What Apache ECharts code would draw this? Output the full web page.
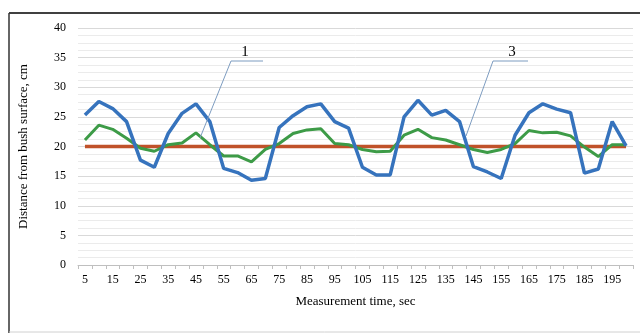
<!DOCTYPE html>
<html><head><meta charset="utf-8">
<script src="https://cdn.jsdelivr.net/npm/echarts@6/dist/echarts.min.js"></script>
<style>html,body{margin:0;padding:0;background:#fff}#c{width:640px;height:333px}</style>
</head><body><div id="c"></div>
<script>
const categories = [5,10,15,20,25,30,35,40,45,50,55,60,65,70,75,80,85,90,95,100,105,110,115,120,125,130,135,140,145,150,155,160,165,170,175,180,185,190,195,200];
const series1 = [25.3,27.6,26.4,24.2,17.7,16.5,22.2,25.6,27.2,24.2,16.3,15.6,14.3,14.6,23.2,25.2,26.7,27.2,24.2,23.1,16.5,15.2,15.2,25.0,27.8,25.3,26.1,24.2,16.6,15.7,14.6,21.9,25.7,27.2,26.3,25.7,15.5,16.2,24.2,20.1];
const series3 = [21.1,23.6,22.9,21.4,19.7,19.2,20.3,20.6,22.3,20.3,18.4,18.4,17.4,19.5,20.5,22.2,22.8,23.0,20.5,20.3,19.5,19.1,19.2,21.9,22.9,21.5,21.1,20.3,19.5,19.0,19.5,20.5,22.7,22.3,22.4,21.8,19.9,18.3,20.3,20.3];
const series2 = categories.map(() => 20);
const yTicks = {min: 0, max: 40, interval: 5};

const chart = echarts.init(document.getElementById('c'));
const font = 'Liberation Serif';
chart.setOption({
  animation: false,
  textStyle: {fontFamily: font},
  grid: {left: 78, right: 7, top: 28, bottom: 68},
  xAxis: {
    type: 'category', data: categories, boundaryGap: true,
    name: 'Measurement time, sec', nameLocation: 'middle', nameGap: 30,
    nameTextStyle: {fontFamily: font, fontSize: 13, color: '#000'},
    axisLine: {lineStyle: {color: '#bfbfbf'}},
    axisTick: {show: true, interval: 0, length: 4, lineStyle: {color: '#bfbfbf'}},
    axisLabel: {interval: 1, color: '#000', fontFamily: font, fontSize: 12, margin: 9},
    splitLine: {show: false}
  },
  yAxis: {
    type: 'value', min: yTicks.min, max: yTicks.max, interval: yTicks.interval,
    name: 'Distance from bush surface, cm', nameLocation: 'middle', nameGap: 48, nameRotate: 90,
    nameTextStyle: {fontFamily: font, fontSize: 13, color: '#000'},
    axisLine: {show: false}, axisTick: {show: false},
    axisLabel: {color: '#000', fontFamily: font, fontSize: 12, margin: 12},
    splitLine: {lineStyle: {color: '#d9d9d9'}},
    minorTick: {show: false, splitNumber: 4},
    minorSplitLine: {show: true, lineStyle: {color: '#ebebeb'}}
  },
  series: [
    {name: '2', type: 'line', data: series2, symbol: 'none', lineStyle: {color: '#c0522a', width: 3.5}, z: 3},
    {name: '3', type: 'line', data: series3, symbol: 'none', lineStyle: {color: '#3d9b47', width: 3}, z: 4},
    {name: '1', type: 'line', data: series1, symbol: 'none', lineStyle: {color: '#3673bd', width: 3.5}, z: 5}
  ],
  graphic: [
    {type: 'line', shape: {x1: 9, y1: 13, x2: 640, y2: 13}, style: {stroke: '#000', lineWidth: 1.5}},
    {type: 'line', shape: {x1: 9, y1: 13, x2: 9, y2: 333}, style: {stroke: '#333', lineWidth: 1.5}},
    {type: 'line', shape: {x1: 9, y1: 332, x2: 640, y2: 332}, style: {stroke: '#d0d0d0', lineWidth: 1}},
    {type: 'polyline', shape: {points: [[263, 61], [231, 61], [200, 138]]}, style: {stroke: '#7d9cc0', lineWidth: 1, fill: null}, z: 10},
    {type: 'text', style: {text: '1', x: 245, y: 52, fontFamily: font, fontSize: 15, fill: '#000', align: 'center', verticalAlign: 'middle'}, z: 10},
    {type: 'polyline', shape: {points: [[528, 61], [493, 61], [466, 136]]}, style: {stroke: '#7d9cc0', lineWidth: 1, fill: null}, z: 10},
    {type: 'text', style: {text: '3', x: 512, y: 52, fontFamily: font, fontSize: 15, fill: '#000', align: 'center', verticalAlign: 'middle'}, z: 10}
  ]
});
</script></body></html>
